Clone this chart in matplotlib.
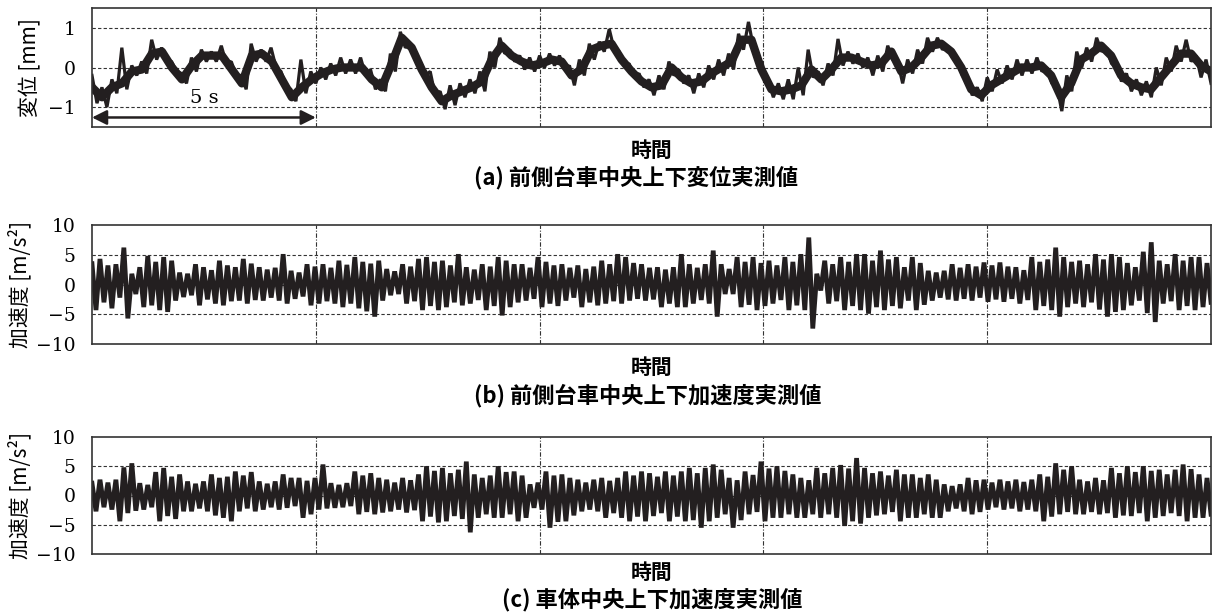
import numpy as np
import matplotlib
matplotlib.use('Agg')
import matplotlib.pyplot as plt

plt.rcParams['font.family'] = ['Noto Sans CJK JP', 'DejaVu Sans']

# 計測時間 [s]
T_END = 25.0

# (a) 前側台車中央上下変位 [mm]：中心の推移と上側・下側の読み取り値
disp_mid = [-0.5, -0.75, -0.5, -0.4, -0.1, -0.05, 0.35, 0.4, 0.0, -0.3,
            0.05, 0.3, 0.3, 0.3, -0.05, -0.4, 0.3, 0.35, 0.15, -0.3,
            -0.75, -0.5, -0.3, -0.15, -0.05, 0.0, 0.0, 0.0, -0.3, -0.5,
            0.1, 0.75, 0.5, -0.05, -0.5, -0.85, -0.7, -0.6, -0.5, -0.35,
            0.2, 0.55, 0.3, 0.15, 0.05, 0.1, 0.2, 0.15, -0.2, -0.05,
            0.45, 0.55, 0.6, 0.2, -0.1, -0.35, -0.5, -0.45, 0.0, -0.25,
            -0.4, -0.35, -0.15, 0.0, 0.15, 0.7, 0.7, -0.05, -0.55, -0.6,
            -0.55, -0.45, -0.05, -0.3, -0.05, 0.25, 0.25, 0.15, 0.05, 0.1,
            0.4, -0.1, 0.0, 0.25, 0.55, 0.6, 0.4, 0.0, -0.55, -0.7,
            -0.45, -0.3, -0.15, 0.0, 0.0, 0.05, -0.2, -0.75, -0.4, 0.2,
            0.35, 0.55, 0.3, -0.2, -0.4, -0.5, -0.55, -0.25, 0.05, 0.35,
            0.35, 0.05, -0.1]
disp_hi = [-0.2, -0.5, -0.3, 0.5, 0.05, 0.15, 0.7, 0.5, 0.15, -0.15,
           0.25, 0.45, 0.4, 0.55, 0.15, -0.2, 0.6, 0.45, 0.5, -0.1,
           -0.55, 0.2, -0.1, 0.0, 0.1, 0.25, 0.2, 0.25, -0.05, -0.3,
           0.35, 0.9, 0.6, 0.15, -0.1, -0.6, -0.45, -0.4, -0.3, -0.1,
           0.4, 0.75, 0.45, 0.3, 0.25, 0.3, 0.35, 0.3, 0.05, 0.2,
           0.6, 0.65, 0.97, 0.4, 0.1, -0.15, -0.3, -0.2, 0.15, -0.05,
           -0.2, -0.15, 0.05, 0.2, 0.35, 0.85, 1.15, 0.2, -0.35, -0.4,
           -0.3, 0.0, 0.45, -0.1, 0.1, 0.72, 0.4, 0.35, 0.25, 0.3,
           0.55, 0.15, 0.2, 0.45, 0.75, 0.75, 0.55, 0.2, -0.35, -0.5,
           -0.25, -0.05, 0.05, 0.2, 0.2, 0.25, 0.0, -0.45, -0.2, 0.4,
           0.5, 0.75, 0.5, 0.0, -0.15, -0.3, -0.35, 0.0, 0.25, 0.55,
           0.7, 0.3, 0.2]
disp_lo = [-0.9, -1.0, -0.65, -0.55, -0.2, -0.15, 0.2, 0.2, -0.1, -0.4,
           -0.1, 0.15, 0.15, 0.1, -0.2, -0.55, 0.15, 0.15, 0.0, -0.45,
           -0.85, -0.65, -0.4, -0.3, -0.2, -0.15, -0.15, -0.2, -0.55, -0.6,
           -0.1, 0.5, 0.3, -0.2, -0.7, -1.05, -0.95, -0.75, -0.65, -0.6,
           0.0, 0.35, 0.15, -0.05, -0.1, 0.0, 0.05, -0.05, -0.45, -0.2,
           0.2, 0.4, 0.45, 0.05, -0.25, -0.5, -0.7, -0.55, -0.2, -0.4,
           -0.65, -0.5, -0.3, -0.2, -0.05, 0.45, 0.5, -0.25, -0.75, -0.8,
           -0.8, -0.7, -0.25, -0.45, -0.2, 0.05, 0.1, 0.0, -0.2, -0.1,
           0.2, -0.4, -0.15, 0.1, 0.4, 0.45, 0.25, -0.2, -0.7, -0.85,
           -0.6, -0.4, -0.3, -0.2, -0.15, -0.1, -0.4, -1.1, -0.6, 0.0,
           0.15, 0.4, 0.1, -0.35, -0.6, -0.7, -0.75, -0.45, -0.1, 0.15,
           0.15, -0.25, -0.4]

# (b) 前側台車中央上下加速度 [m/s2] の上側・下側の読み取り値
acc_b_hi = [3.5, 4.3, 3.2, 3.4, 6.2, 1.8, 2.9, 4.8, 3.8, 4.6,
            4.0, 2.0, 1.8, 3.4, 2.9, 2.4, 4.0, 3.2, 2.9, 4.3,
            3.5, 2.9, 2.5, 2.8, 5.1, 2.3, 2.0, 3.4, 3.0, 3.4,
            2.8, 4.0, 3.3, 4.6, 3.8, 3.5, 4.0, 2.6, 2.2, 3.4,
            3.0, 4.3, 4.6, 3.8, 4.0, 3.2, 5.1, 2.9, 2.5, 3.4,
            3.0, 4.6, 4.0, 3.4, 3.4, 2.8, 4.6, 3.8, 3.2, 3.4,
            2.8, 3.2, 2.6, 3.0, 4.0, 3.4, 5.1, 4.6, 3.6, 3.4,
            2.8, 2.9, 2.5, 2.9, 5.1, 3.4, 2.8, 3.4, 5.7, 3.4,
            2.6, 4.6, 3.8, 4.6, 3.6, 4.0, 3.2, 4.6, 3.8, 5.1,
            7.9, 1.8, 4.0, 3.4, 4.6, 3.8, 5.1, 5.1, 4.0, 5.7,
            4.2, 4.6, 2.9, 4.6, 3.6, 2.3, 2.0, 2.3, 3.4, 2.8,
            3.4, 3.0, 3.7, 3.2, 3.7, 3.0, 2.9, 2.4, 4.6, 3.8,
            4.2, 6.2, 4.6, 3.8, 4.0, 3.4, 5.1, 4.2, 5.1, 4.6,
            3.6, 2.9, 5.5, 7.1, 4.0, 3.4, 5.1, 4.0, 4.6, 4.6,
            3.6]
acc_b_lo = [-4.3, -3.0, -4.0, -2.2, -5.7, -1.6, -3.8, -3.5, -4.3, -4.6,
            -2.7, -2.1, -1.8, -3.5, -2.5, -3.2, -3.5, -2.8, -2.7, -3.2,
            -2.6, -2.7, -2.2, -2.7, -3.2, -2.4, -2.0, -3.5, -3.2, -2.8,
            -3.2, -3.8, -3.2, -4.0, -4.5, -5.4, -2.7, -1.8, -1.6, -3.2,
            -2.8, -4.3, -3.6, -4.3, -3.8, -3.0, -3.5, -3.2, -2.6, -4.3,
            -3.6, -5.2, -3.8, -3.0, -2.7, -2.4, -3.8, -3.2, -3.6, -2.7,
            -2.2, -3.8, -3.0, -3.5, -3.2, -2.8, -3.2, -2.7, -2.4, -2.7,
            -2.5, -3.8, -3.2, -3.8, -3.8, -3.2, -2.6, -3.2, -5.4, -1.6,
            -1.6, -3.8, -3.4, -4.3, -3.6, -3.2, -2.6, -4.3, -3.5, -4.3,
            -7.4, -1.0, -3.2, -2.8, -4.3, -3.6, -4.3, -4.9, -3.8, -4.3,
            -3.6, -4.0, -2.7, -4.3, -3.4, -2.7, -2.2, -2.5, -2.7, -2.4,
            -2.7, -2.2, -2.9, -2.5, -2.9, -2.4, -3.2, -2.6, -4.3, -3.6,
            -4.3, -5.4, -3.8, -3.2, -3.8, -3.0, -4.2, -5.4, -4.6, -4.3,
            -3.5, -2.7, -4.8, -6.3, -3.2, -2.8, -4.3, -3.6, -4.3, -3.8,
            -3.0]

# (c) 車体中央上下加速度 [m/s2] の上側・下側の読み取り値
acc_c_hi = [2.1, 2.7, 2.2, 2.7, 4.8, 5.5, 2.1, 1.8, 4.0, 4.7,
            3.2, 3.6, 2.4, 2.0, 2.4, 3.6, 3.0, 3.2, 4.1, 3.4,
            4.0, 2.4, 2.0, 2.4, 3.6, 3.0, 3.0, 2.5, 3.0, 5.3,
            2.1, 1.8, 2.1, 4.1, 3.4, 3.8, 3.0, 2.7, 2.2, 3.0,
            2.6, 3.6, 5.0, 4.2, 4.7, 3.8, 4.4, 5.8, 3.6, 3.0,
            3.4, 5.0, 4.0, 4.1, 3.4, 1.9, 2.2, 4.1, 3.4, 3.6,
            3.0, 2.7, 2.2, 2.7, 3.0, 2.5, 3.0, 4.1, 3.4, 4.1,
            3.8, 3.2, 4.1, 3.4, 4.1, 4.7, 3.8, 4.7, 5.3, 4.4,
            3.0, 2.6, 4.1, 3.5, 5.8, 4.6, 5.0, 4.2, 3.6, 3.0,
            2.6, 4.7, 3.8, 4.7, 5.2, 4.6, 6.4, 4.7, 3.8, 4.1,
            3.4, 4.4, 3.6, 3.6, 3.0, 3.6, 2.7, 1.9, 1.6, 1.9,
            3.0, 2.6, 2.7, 2.2, 2.7, 2.4, 2.7, 2.3, 2.7, 3.6,
            3.2, 5.5, 4.4, 5.0, 2.7, 2.4, 3.0, 2.6, 4.7, 3.8,
            5.0, 4.0, 5.0, 4.2, 4.4, 3.6, 4.4, 5.3, 4.5, 3.6,
            3.0]
acc_c_lo = [-2.7, -2.0, -2.4, -4.4, -3.0, -2.6, -2.4, -2.0, -4.4, -3.5,
            -4.0, -2.7, -2.7, -2.2, -2.7, -3.4, -3.8, -4.4, -2.7, -2.2,
            -2.7, -2.4, -2.0, -2.4, -2.1, -1.8, -3.8, -3.2, -2.4, -2.2,
            -2.1, -2.0, -1.8, -3.2, -2.8, -3.2, -2.9, -2.7, -2.4, -2.9,
            -2.5, -4.4, -3.6, -4.6, -4.4, -3.5, -4.0, -6.3, -3.8, -3.2,
            -3.8, -3.8, -3.2, -4.4, -3.8, -2.1, -2.4, -5.5, -4.5, -4.4,
            -3.4, -2.7, -2.4, -2.7, -3.8, -3.0, -3.8, -4.4, -3.6, -4.4,
            -3.5, -3.0, -4.4, -3.6, -4.4, -4.2, -5.5, -4.4, -3.8, -3.2,
            -5.5, -4.2, -3.2, -2.8, -4.4, -3.8, -3.8, -3.2, -3.8, -3.8,
            -3.2, -3.8, -3.2, -3.8, -5.2, -4.4, -4.8, -3.8, -3.4, -3.2,
            -2.8, -4.4, -3.8, -3.8, -3.2, -3.8, -3.8, -2.7, -2.2, -2.7,
            -3.2, -2.8, -2.4, -2.0, -2.4, -2.2, -2.7, -2.4, -2.7, -4.4,
            -3.6, -3.2, -2.8, -3.2, -3.2, -2.8, -3.2, -3.0, -3.8, -3.4,
            -3.5, -3.0, -4.4, -3.8, -3.5, -3.0, -3.5, -4.4, -3.8, -3.8,
            -3.2]

panels = [
    (disp_hi, disp_lo, (-1.5, 1.5), [-1, 0, 1], '変位 [mm]',
     '(a) 前側台車中央上下変位実測値', 2.3),
    (acc_b_hi, acc_b_lo, (-10, 10), [-10, -5, 0, 5, 10], '加速度 [m/s²]',
     '(b) 前側台車中央上下加速度実測値', 3.4),
    (acc_c_hi, acc_c_lo, (-10, 10), [-10, -5, 0, 5, 10], '加速度 [m/s²]',
     '(c) 車体中央上下加速度実測値', 3.4),
]

W, H = 1214, 616
fig = plt.figure(figsize=(W / 100, H / 100), dpi=100)

# 各グラフの枠 (ピクセル: 上端, 下端)
frames = [(8, 127), (225, 344), (437, 554)]
xlabel_y = [150, 367, 572]
caption_y = [178, 396, 600]
caption_x = [636, 648, 652]
ylabel_x = [-0.045, -0.054, -0.054]
left, right = 92, 1211

line_color = '#231f20'
grid_kw = dict(color='#333333', linewidth=0.8, linestyle=(0, (3, 2)))

for k, (hi, lo, ylim, yticks, ylabel, caption, lw) in enumerate(panels):
    top, bot = frames[k]
    ax = fig.add_axes([left / W, 1 - bot / H, (right - left) / W, (bot - top) / H])

    sig = np.column_stack([hi, lo]).ravel()
    t = np.linspace(0, T_END, len(sig))
    ax.plot(t, sig, color=line_color, linewidth=lw, solid_joinstyle='bevel')
    if k == 0:
        tm = np.linspace(0, T_END, len(disp_mid))
        ax.plot(tm, disp_mid, color=line_color, linewidth=6.0,
                solid_joinstyle='round')

    ax.set_xlim(0, T_END)
    ax.set_ylim(*ylim)
    ax.set_xticks([5, 10, 15, 20])
    ax.set_xticklabels([])
    ax.set_yticks(yticks)
    ax.set_yticklabels(['−' + str(abs(v)) if v < 0 else str(v) for v in yticks],
                       family='DejaVu Serif', fontsize=13.5)
    ax.tick_params(axis='x', length=0)
    ax.tick_params(axis='y', length=0, pad=12)
    for v in yticks:
        if ylim[0] < v < ylim[1]:
            ax.axhline(v, zorder=0, **grid_kw)
    for v in [5, 10, 15, 20]:
        ax.axvline(v, zorder=0, color='#333333', linewidth=0.8,
                   linestyle=(0, (4, 1.5, 1, 1.5)))
    for s in ax.spines.values():
        s.set_linewidth(1.2)
        s.set_color('#333333')

    ax.set_ylabel(ylabel, fontsize=15)
    ax.yaxis.set_label_coords(ylabel_x[k], 0.5)

    fig.text(652 / W, 1 - xlabel_y[k] / H, '時間', ha='center', va='center',
             fontsize=15, fontweight='bold')
    fig.text(caption_x[k] / W, 1 - caption_y[k] / H, caption, ha='center',
             va='center', fontsize=16, fontweight='bold')

    if k == 0:
        ax.annotate('', xy=(0, -1.26), xytext=(5, -1.26),
                    arrowprops=dict(arrowstyle='<|-|>', color=line_color,
                                    lw=1.8, mutation_scale=22, shrinkA=0, shrinkB=0))
        ax.text(2.5, -0.78, '5 s', ha='center', va='center',
                family='DejaVu Serif', fontsize=14)

fig.savefig('out.png', dpi=100)
